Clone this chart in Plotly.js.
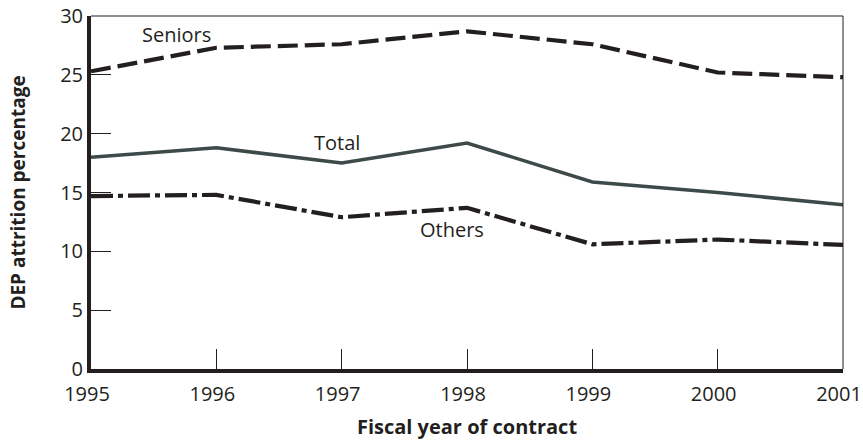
<!DOCTYPE html>
<html>
<head>
<meta charset="utf-8">
<script src="https://cdn.plot.ly/plotly-3.0.1.min.js"></script>
<style>
  html, body { margin: 0; padding: 0; background: #fff; }
  #chart { width: 863px; height: 440px; }
</style>
</head>
<body>
<div id="chart"></div>
<script>
const years = [1995, 1996, 1997, 1998, 1999, 2000, 2001];
const seniors = [25.3, 27.3, 27.6, 28.7, 27.6, 25.2, 24.8];
const total = [18.0, 18.8, 17.5, 19.2, 15.9, 15.0, 13.95];
const others = [14.7, 14.8, 12.9, 13.7, 10.6, 11.0, 10.55];
const yTicks = [0, 5, 10, 15, 20, 25, 30];
const seriesLabels = ['Seniors', 'Total', 'Others'];
const labelX = [1995.68, 1996.96, 1997.88];
const labelY = [28.45, 19.24, 11.83];

const font = '"Open Sans", "Noto Sans", sans-serif';

const traces = [
  { x: years, y: seniors, mode: 'lines', name: seriesLabels[0],
    line: { color: '#231f20', width: 4.2, dash: '20px,7px' } },
  { x: years, y: total, mode: 'lines', name: seriesLabels[1],
    line: { color: '#3e4a4a', width: 3.5 } },
  { x: years, y: others, mode: 'lines', name: seriesLabels[2],
    line: { color: '#231f20', width: 4.2, dash: '22px,5px,5px,5px' } }
];

const layout = {
  width: 863, height: 440,
  margin: { l: 91, r: 20, t: 16, b: 71 },
  paper_bgcolor: '#fff', plot_bgcolor: '#fff',
  showlegend: false,
  font: { family: font, color: '#231f20', size: 20 },
  xaxis: {
    range: [1995, 2001], tickvals: years, ticktext: years.map(String),
    ticks: 'inside', ticklen: 20, tickwidth: 1, tickcolor: '#231f20',
    showline: true, linewidth: 4, linecolor: '#231f20',
    showgrid: false, zeroline: false,
    ticklabeloverflow: 'allow', ticklabelstandoff: 4, ticklabelshift: -4,
    tickfont: { size: 20, family: font },
    title: { text: '<b>Fiscal year of contract</b>', font: { size: 20, family: font }, standoff: 20 }
  },
  yaxis: {
    range: [0, 30], tickvals: yTicks,
    ticks: 'inside', ticklen: 20, tickwidth: 1, tickcolor: '#231f20',
    showline: true, linewidth: 4, linecolor: '#231f20',
    showgrid: false, zeroline: false,
    tickfont: { size: 20, family: font },
    title: { text: '<b>DEP attrition percentage</b>', font: { size: 19, family: font }, standoff: 30 }
  },
  shapes: [
    { type: 'line', xref: 'paper', yref: 'paper', x0: 0, x1: 1, y0: 1, y1: 1,
      line: { color: '#231f20', width: 1 } },
    { type: 'line', xref: 'paper', yref: 'paper', x0: 1, x1: 1, y0: 0, y1: 1,
      line: { color: '#231f20', width: 1 } }
  ],
  annotations: seriesLabels.map((t, i) => ({
    x: labelX[i], y: labelY[i], text: t, showarrow: false,
    font: { size: 20, family: font }
  }))
};

Plotly.newPlot('chart', traces, layout, { displayModeBar: false, staticPlot: true });
</script>
</body>
</html>
